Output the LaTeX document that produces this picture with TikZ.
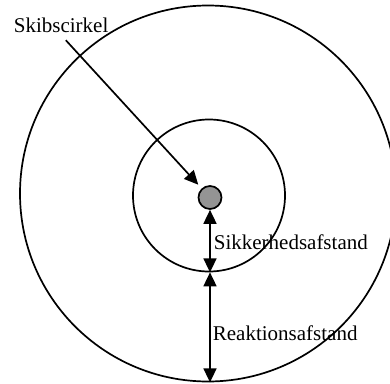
\documentclass[tikz,border=0pt]{standalone}
\usepackage{fontspec}
\setmainfont{Liberation Serif}
\usepackage{xcolor}
\usetikzlibrary{arrows.meta, positioning, calc}

\begin{document}
\begin{tikzpicture}[x=1pt, y=-1pt, >={Triangle[length=14pt, width=13pt]}, line width=1.7pt,
    every node/.style={font=\fontsize{21}{25}\selectfont},
    ring/.style={circle, draw, inner sep=0pt}]
  \useasboundingbox (0,0) rectangle (390,383);
  \node[ring, minimum size=376pt] (react) at (208,193.5) {};
  \node[ring, minimum size=152pt] (safe) at (209,195.5) {};
  \node[ring, fill=black!42, minimum size=23pt] (ship) at (210,197.5) {};
  \node[anchor=base west, inner sep=2pt] (lbl) at (11,32) {Skibscirkel};
  \node[anchor=base west, inner sep=0pt] (sik) at (213,249) {Sikkerhedsafstand};
  \node[anchor=base west, inner sep=0pt] (rea) at (212,340) {Reaktionsafstand};
  \draw[->, shorten <=7pt, shorten >=5pt] (lbl.south) -- (ship);
  \draw[<->] (ship.south) -- (ship.south |- safe.south);
  \draw[<->] (ship.south |- safe.south) -- (ship.south |- react.south);
\end{tikzpicture}
\end{document}
